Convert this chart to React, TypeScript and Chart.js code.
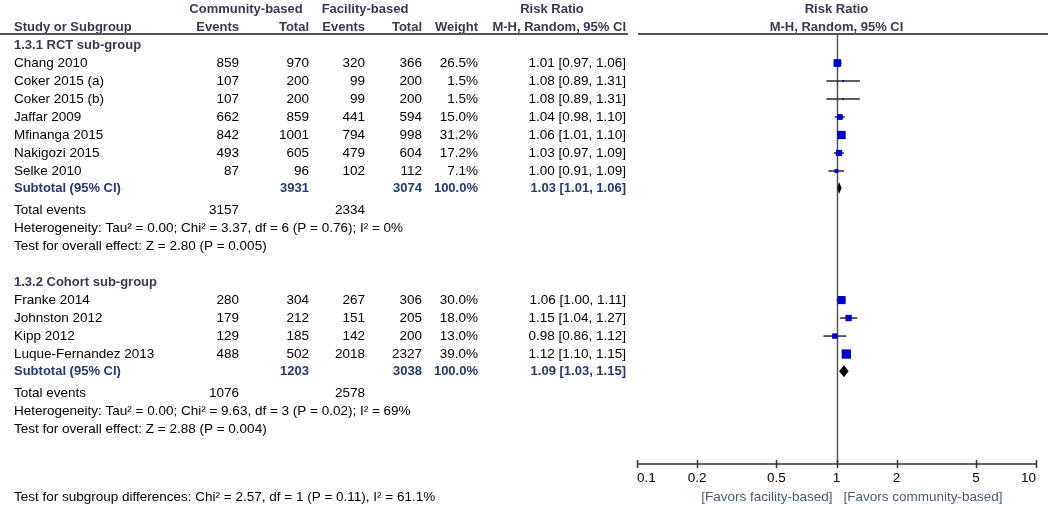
import React, { useEffect, useRef } from 'react';
import { Chart, registerables } from 'chart.js';

Chart.register(...registerables);

// ---------- DATA ----------
const rctTitle = '1.3.1 RCT sub-group';
const rctStudies = ['Chang 2010', 'Coker 2015 (a)', 'Coker 2015 (b)', 'Jaffar 2009', 'Mfinanga 2015', 'Nakigozi 2015', 'Selke 2010'];
const rctCommEvents = [859, 107, 107, 662, 842, 493, 87];
const rctCommTotal = [970, 200, 200, 859, 1001, 605, 96];
const rctFacEvents = [320, 99, 99, 441, 794, 479, 102];
const rctFacTotal = [366, 200, 200, 594, 998, 604, 112];
const rctWeight = [26.5, 1.5, 1.5, 15.0, 31.2, 17.2, 7.1];
const rctRR = [1.01, 1.08, 1.08, 1.04, 1.06, 1.03, 1.0];
const rctLo = [0.97, 0.89, 0.89, 0.98, 1.01, 0.97, 0.91];
const rctHi = [1.06, 1.31, 1.31, 1.1, 1.1, 1.09, 1.09];
const rctSubtotal = [3931, 3074, 1.03, 1.01, 1.06]; // commTotal, facTotal, RR, lo, hi
const rctTotalEvents = [3157, 2334];
const rctHetero = 'Heterogeneity: Tau\u00B2 = 0.00; Chi\u00B2 = 3.37, df = 6 (P = 0.76); I\u00B2 = 0%';
const rctEffect = 'Test for overall effect: Z = 2.80 (P = 0.005)';

const cohTitle = '1.3.2 Cohort sub-group';
const cohStudies = ['Franke 2014', 'Johnston 2012', 'Kipp 2012', 'Luque-Fernandez 2013'];
const cohCommEvents = [280, 179, 129, 488];
const cohCommTotal = [304, 212, 185, 502];
const cohFacEvents = [267, 151, 142, 2018];
const cohFacTotal = [306, 205, 200, 2327];
const cohWeight = [30.0, 18.0, 13.0, 39.0];
const cohRR = [1.06, 1.15, 0.98, 1.12];
const cohLo = [1.0, 1.04, 0.86, 1.1];
const cohHi = [1.11, 1.27, 1.12, 1.15];
const cohSubtotal = [1203, 3038, 1.09, 1.03, 1.15];
const cohTotalEvents = [1076, 2578];
const cohHetero = 'Heterogeneity: Tau\u00B2 = 0.00; Chi\u00B2 = 9.63, df = 3 (P = 0.02); I\u00B2 = 69%';
const cohEffect = 'Test for overall effect: Z = 2.88 (P = 0.004)';

const subgroupTest = 'Test for subgroup differences: Chi\u00B2 = 2.57, df = 1 (P = 0.11), I\u00B2 = 61.1%';
const axisTicks = [0.1, 0.2, 0.5, 1, 2, 5, 10];
const axisTickLabels = ['0.1', '0.2', '0.5', '1', '2', '5', '10'];
const favorsLeft = '[Favors facility-based]';
const favorsRight = '[Favors community-based]';

// ---------- LAYOUT ----------
const FONT = "'Liberation Sans', Arial, sans-serif";
const REG_SIZE = 13.5;
const BOLD_SIZE = 13;
const HEAD_COLOR = '#363a55';
const SUB_COLOR = '#243a6e';
const BOX_COLOR = '#0000cc';

type Group = {
  title: string; studies: string[]; ce: number[]; ct: number[]; fe: number[]; ft: number[];
  w: number[]; rr: number[]; lo: number[]; hi: number[]; sub: number[]; tot: number[];
  het: string; eff: string;
};
const groups: Group[] = [
  { title: rctTitle, studies: rctStudies, ce: rctCommEvents, ct: rctCommTotal, fe: rctFacEvents, ft: rctFacTotal, w: rctWeight, rr: rctRR, lo: rctLo, hi: rctHi, sub: rctSubtotal, tot: rctTotalEvents, het: rctHetero, eff: rctEffect },
  { title: cohTitle, studies: cohStudies, ce: cohCommEvents, ct: cohCommTotal, fe: cohFacEvents, ft: cohFacTotal, w: cohWeight, rr: cohRR, lo: cohLo, hi: cohHi, sub: cohSubtotal, tot: cohTotalEvents, het: cohHetero, eff: cohEffect },
];

// compute row positions (row units)
type Laid = { g: Group; titleRow: number; rows: number[]; subRow: number; totRow: number; hetRow: number; effRow: number };
const laid: Laid[] = [];
{
  let r = -1;
  groups.forEach((g) => {
    const titleRow = r;
    const rows = g.studies.map((_, i) => titleRow + 1 + i);
    const last = rows[rows.length - 1];
    const subRow = last + 0.95;
    const totRow = subRow + 1.22;
    const hetRow = totRow + 1;
    const effRow = hetRow + 1;
    laid.push({ g, titleRow, rows, subRow, totRow, hetRow, effRow });
    r = effRow + 2;
  });
}

const COL = { cE: 239, cT: 309, fE: 365, fT: 422, w: 478, ci: 626 };
const fmtCI = (rr: number, lo: number, hi: number) => `${rr.toFixed(2)} [${lo.toFixed(2)}, ${hi.toFixed(2)}]`;

const forestPlugin = {
  id: 'forest',
  beforeDatasetsDraw(chart: any) {
    const { ctx, chartArea, scales } = chart;
    const x = scales.x;
    ctx.save();
    ctx.strokeStyle = '#555';
    ctx.lineWidth = 1.5;
    const x1 = Math.round(x.getPixelForValue(1)) + 0.5;
    ctx.beginPath();
    ctx.moveTo(x1, chartArea.top);
    ctx.lineTo(x1, chartArea.bottom);
    ctx.stroke();
    ctx.restore();
  },
  afterDatasetsDraw(chart: any) {
    const { ctx, chartArea, scales } = chart;
    const x = scales.x;
    const y = scales.y;
    const Y = (r: number) => y.getPixelForValue(r);
    ctx.save();

    // diamonds
    laid.forEach((L) => {
      const [, , rr, lo, hi] = L.g.sub;
      const cy = Y(L.subRow);
      ctx.beginPath();
      ctx.moveTo(x.getPixelForValue(lo), cy);
      ctx.lineTo(x.getPixelForValue(rr), cy - 6);
      ctx.lineTo(x.getPixelForValue(hi), cy);
      ctx.lineTo(x.getPixelForValue(rr), cy + 6);
      ctx.closePath();
      ctx.fillStyle = '#000';
      ctx.fill();
    });

    const text = (s: string, px: number, py: number, align: CanvasTextAlign, bold = false, color = '#000') => {
      ctx.font = `${bold ? 'bold ' : ''}${BOLD_SIZE}px ${FONT}`;
      ctx.fillStyle = color;
      ctx.textAlign = align;
      ctx.textBaseline = 'middle';
      ctx.fillText(s, px, py);
    };
    const reg = (s: string, px: number, py: number, align: CanvasTextAlign) => {
      ctx.font = `${REG_SIZE}px ${FONT}`;
      ctx.fillStyle = '#000';
      ctx.textAlign = align;
      ctx.textBaseline = 'middle';
      ctx.fillText(s, px, py);
    };

    // header
    const h1 = Y(-2.95);
    const h2 = Y(-2.0);
    text('Community-based', 246, h1, 'center', true, HEAD_COLOR);
    text('Facility-based', 365, h1, 'center', true, HEAD_COLOR);
    text('Risk Ratio', 552, h1, 'center', true, HEAD_COLOR);
    text('Risk Ratio', x.getPixelForValue(1), h1, 'center', true, HEAD_COLOR);
    text('Study or Subgroup', 14, h2, 'left', true, HEAD_COLOR);
    text('Events', COL.cE, h2, 'right', true, HEAD_COLOR);
    text('Total', COL.cT, h2, 'right', true, HEAD_COLOR);
    text('Events', COL.fE, h2, 'right', true, HEAD_COLOR);
    text('Total', COL.fT, h2, 'right', true, HEAD_COLOR);
    text('Weight', COL.w, h2, 'right', true, HEAD_COLOR);
    text('M-H, Random, 95% CI', COL.ci, h2, 'right', true, HEAD_COLOR);
    text('M-H, Random, 95% CI', x.getPixelForValue(1), h2, 'center', true, HEAD_COLOR);

    // header rule
    ctx.strokeStyle = '#555';
    ctx.lineWidth = 2;
    const ly = chartArea.top - 1;
    ctx.beginPath();
    ctx.moveTo(0, ly);
    ctx.lineTo(628, ly);
    ctx.moveTo(638, ly);
    ctx.lineTo(chart.width - 2, ly);
    ctx.stroke();

    // groups
    laid.forEach((L) => {
      const g = L.g;
      text(g.title, 14, Y(L.titleRow), 'left', true, HEAD_COLOR);
      g.studies.forEach((s, i) => {
        const py = Y(L.rows[i]);
        reg(s, 14, py, 'left');
        reg(String(g.ce[i]), COL.cE, py, 'right');
        reg(String(g.ct[i]), COL.cT, py, 'right');
        reg(String(g.fe[i]), COL.fE, py, 'right');
        reg(String(g.ft[i]), COL.fT, py, 'right');
        reg(`${g.w[i].toFixed(1)}%`, COL.w, py, 'right');
        reg(fmtCI(g.rr[i], g.lo[i], g.hi[i]), COL.ci, py, 'right');
      });
      const sy = Y(L.subRow);
      text('Subtotal (95% CI)', 14, sy, 'left', true, SUB_COLOR);
      text(String(g.sub[0]), COL.cT, sy, 'right', true, SUB_COLOR);
      text(String(g.sub[1]), COL.fT, sy, 'right', true, SUB_COLOR);
      text('100.0%', COL.w, sy, 'right', true, SUB_COLOR);
      text(fmtCI(g.sub[2], g.sub[3], g.sub[4]), COL.ci, sy, 'right', true, SUB_COLOR);
      const ty = Y(L.totRow);
      reg('Total events', 14, ty, 'left');
      reg(String(g.tot[0]), COL.cE, ty, 'right');
      reg(String(g.tot[1]), COL.fE, ty, 'right');
      reg(g.het, 14, Y(L.hetRow), 'left');
      reg(g.eff, 14, Y(L.effRow), 'left');
    });

    // x axis
    const ay = chartArea.bottom;
    const xl = x.getPixelForValue(axisTicks[0]);
    const xr = x.getPixelForValue(axisTicks[axisTicks.length - 1]);
    ctx.strokeStyle = '#333';
    ctx.lineWidth = 1.5;
    ctx.beginPath();
    ctx.moveTo(xl, ay);
    ctx.lineTo(xr, ay);
    axisTicks.forEach((t) => {
      const px = Math.round(x.getPixelForValue(t)) + 0.5;
      ctx.moveTo(px, ay - 4);
      ctx.lineTo(px, ay + 4);
    });
    ctx.stroke();
    axisTicks.forEach((t, i) => {
      const px = x.getPixelForValue(t);
      const align: CanvasTextAlign = i === 0 ? 'left' : i === axisTicks.length - 1 ? 'right' : 'center';
      reg(axisTickLabels[i], px, ay + 14, align);
    });
    const fy = ay + 33;
    ctx.font = `${REG_SIZE}px ${FONT}`;
    ctx.fillStyle = '#4a5a80';
    ctx.textBaseline = 'middle';
    ctx.textAlign = 'right';
    ctx.fillText(favorsLeft, x.getPixelForValue(1) - 4, fy);
    ctx.textAlign = 'left';
    ctx.fillText(favorsRight, x.getPixelForValue(1) + 7, fy);

    reg(subgroupTest, 14, fy, 'left');
    ctx.restore();
  },
};

export default function App() {
  const ref = useRef<HTMLCanvasElement>(null);
  useEffect(() => {
    document.body.style.margin = '0';
    const canvas = ref.current!;
    const allStudies = laid.flatMap((L) => L.g.studies.map((_, i) => ({ rr: L.g.rr[i], lo: L.g.lo[i], hi: L.g.hi[i], w: L.g.w[i], row: L.rows[i] })));
    const ciSets = allStudies.map((s) => ({
      type: 'line' as const,
      data: [{ x: s.lo, y: s.row }, { x: s.hi, y: s.row }],
      borderColor: '#2a2a2a',
      borderWidth: 1.5,
      pointRadius: 0,
      order: 2,
    }));
    const boxSet = {
      type: 'scatter' as const,
      data: allStudies.map((s) => ({ x: s.rr, y: s.row })),
      pointStyle: 'rect' as const,
      pointRadius: allStudies.map((s) => Math.max(1.3, 1.05 * Math.sqrt(s.w))),
      backgroundColor: BOX_COLOR,
      borderColor: BOX_COLOR,
      borderWidth: 0,
      order: 1,
    };
    const top = 35;
    const bottom = 464;
    const H = 505;
    const rowPx = 18;
    const row0 = 63;
    const chart = new Chart(canvas, {
      type: 'scatter',
      data: { datasets: [boxSet as any, ...ciSets] },
      options: {
        animation: false,
        responsive: false,
        maintainAspectRatio: false,
        layout: { padding: { left: 637, right: 14, top, bottom: H - bottom } },
        plugins: { legend: { display: false }, tooltip: { enabled: false } },
        events: [],
        scales: {
          x: { type: 'logarithmic', min: 0.1, max: 10, display: false },
          y: { type: 'linear', min: (top - row0) / rowPx, max: (bottom - row0) / rowPx, reverse: true, display: false },
        },
      },
      plugins: [forestPlugin],
    });
    return () => chart.destroy();
  }, []);
  return (
    <div style={{ width: 1050, height: 505, background: '#fff' }}>
      <canvas ref={ref} width={1050} height={505} />
    </div>
  );
}
